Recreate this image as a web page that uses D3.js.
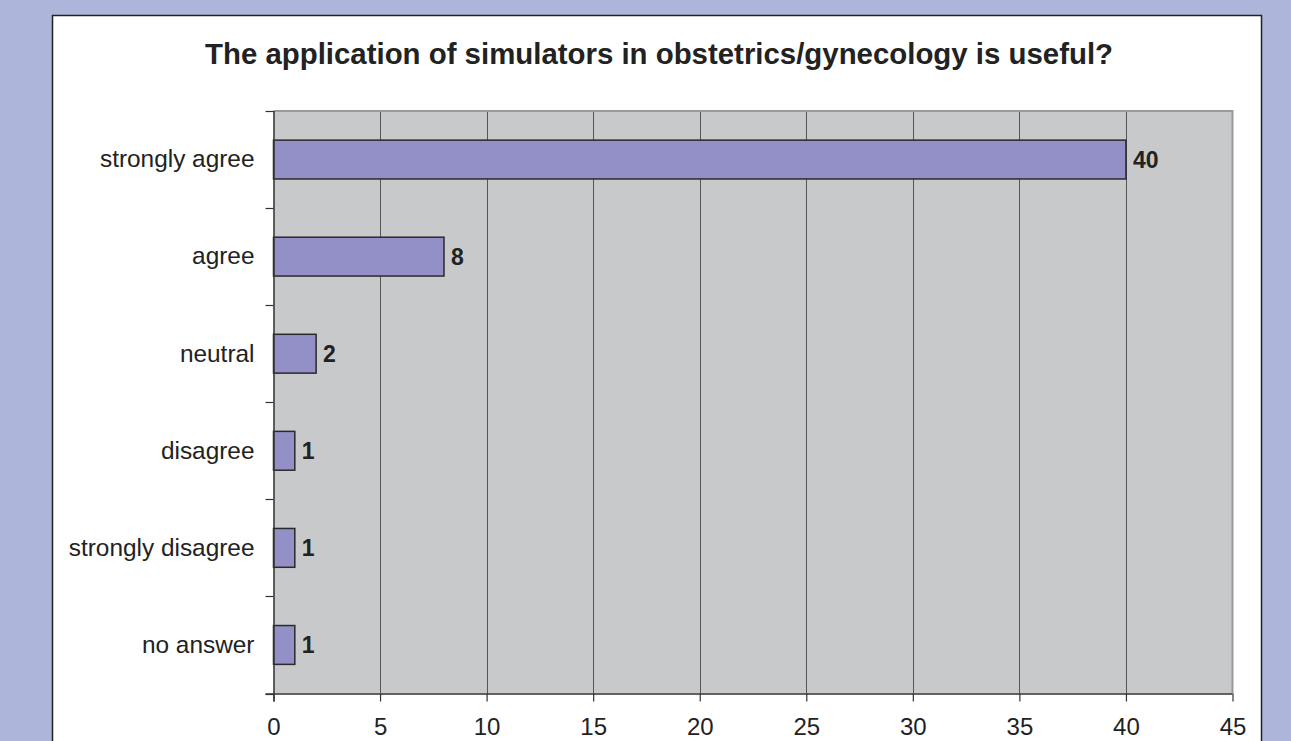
<!DOCTYPE html>
<html><head><meta charset="utf-8">
<script src="https://cdn.jsdelivr.net/npm/d3@7"></script>
<style>html,body{margin:0;padding:0;background:#aeb5db;overflow:hidden}</style>
</head><body>
<script>
const title = "The application of simulators in obstetrics/gynecology is useful?";
const categories = ["strongly agree","agree","neutral","disagree","strongly disagree","no answer"];
const values = [40,8,2,1,1,1];
const xTicks = [0,5,10,15,20,25,30,35,40,45];

const W = 1291, H = 741;
const svg = d3.select("body").append("svg").attr("width",W).attr("height",H);
const font = "Arial, 'Liberation Sans', sans-serif";

svg.append("rect").attr("width",W).attr("height",H).attr("fill","#aeb5db");
svg.append("rect").attr("x",52.5).attr("y",15.5).attr("width",1209).attr("height",800)
  .attr("fill","#fff").attr("stroke","#222").attr("stroke-width",1.5);

const L = 273.5, R = 1232.5, T = 111, B = 693.5;
const x = d3.scaleLinear().domain([0,45]).range([L,R]);
const y = d3.scaleBand().domain(categories).range([T,B]).paddingInner(0.6).paddingOuter(0.3);
const yb = d3.scaleBand().domain(categories).range([T,B]);

svg.append("rect").attr("x",L).attr("y",T).attr("width",R-L).attr("height",B-T).attr("fill","#c8c9cb");

// gridlines
svg.append("g").selectAll("line").data(xTicks.filter(d=>d>0 && d<45)).join("line")
  .attr("x1",d=>Math.round(x(d))+0.5).attr("x2",d=>Math.round(x(d))+0.5).attr("y1",T).attr("y2",B)
  .attr("stroke","#555").attr("stroke-width",1);

// plot border top/right
svg.append("path").attr("d",`M${L},${T}H${R}V${B}`).attr("fill","none").attr("stroke","#9a9a9a").attr("stroke-width",2);

// bars
svg.append("g").selectAll("rect").data(values).join("rect")
  .attr("x",x(0)).attr("y",(d,i)=>y(categories[i]))
  .attr("width",d=>x(d)-x(0)).attr("height",y.bandwidth())
  .attr("fill","#9290c6").attr("stroke","#2a2a2a").attr("stroke-width",1.5);

// value labels
svg.append("g").selectAll("text").data(values).join("text")
  .attr("x",d=>x(d)+7).attr("y",(d,i)=>y(categories[i])+y.bandwidth()/2)
  .attr("dy","0.36em").attr("font-family",font).attr("font-weight","bold").attr("font-size",23)
  .attr("fill","#222").text(d=>d);

// x axis
const xa = svg.append("g").attr("transform",`translate(0,${B})`)
  .call(d3.axisBottom(x).tickValues(xTicks).tickSize(8).tickPadding(16).tickFormat(d3.format("d")));
xa.select(".domain").attr("stroke","#333").attr("stroke-width",1.5).attr("d",`M${L-8},0.5H${R}`);
xa.selectAll(".tick line").attr("stroke","#333").attr("stroke-width",1.2);
xa.selectAll(".tick text").attr("font-family",font).attr("font-size",24).attr("fill","#222");

// y axis
const ya = svg.append("g").attr("transform",`translate(${L},0)`)
  .call(d3.axisLeft(yb).tickSize(0).tickPadding(19));
ya.select(".domain").attr("stroke","#333").attr("stroke-width",1.5).attr("d",`M0.5,${T}V${B+8}`);
ya.selectAll(".tick text").attr("font-family",font).attr("font-size",24.4).attr("fill","#222");
// boundary ticks
const bounds = categories.map(c=>yb(c)).concat([B]);
svg.append("g").selectAll("line").data(bounds).join("line")
  .attr("x1",L-8).attr("x2",L).attr("y1",d=>Math.round(d)+0.5).attr("y2",d=>Math.round(d)+0.5)
  .attr("stroke","#333").attr("stroke-width",1.2);

svg.append("text").attr("x",659).attr("y",64).attr("text-anchor","middle")
  .attr("font-family",font).attr("font-weight","bold").attr("font-size",29.4).attr("fill","#222").text(title);
</script>
</body></html>
